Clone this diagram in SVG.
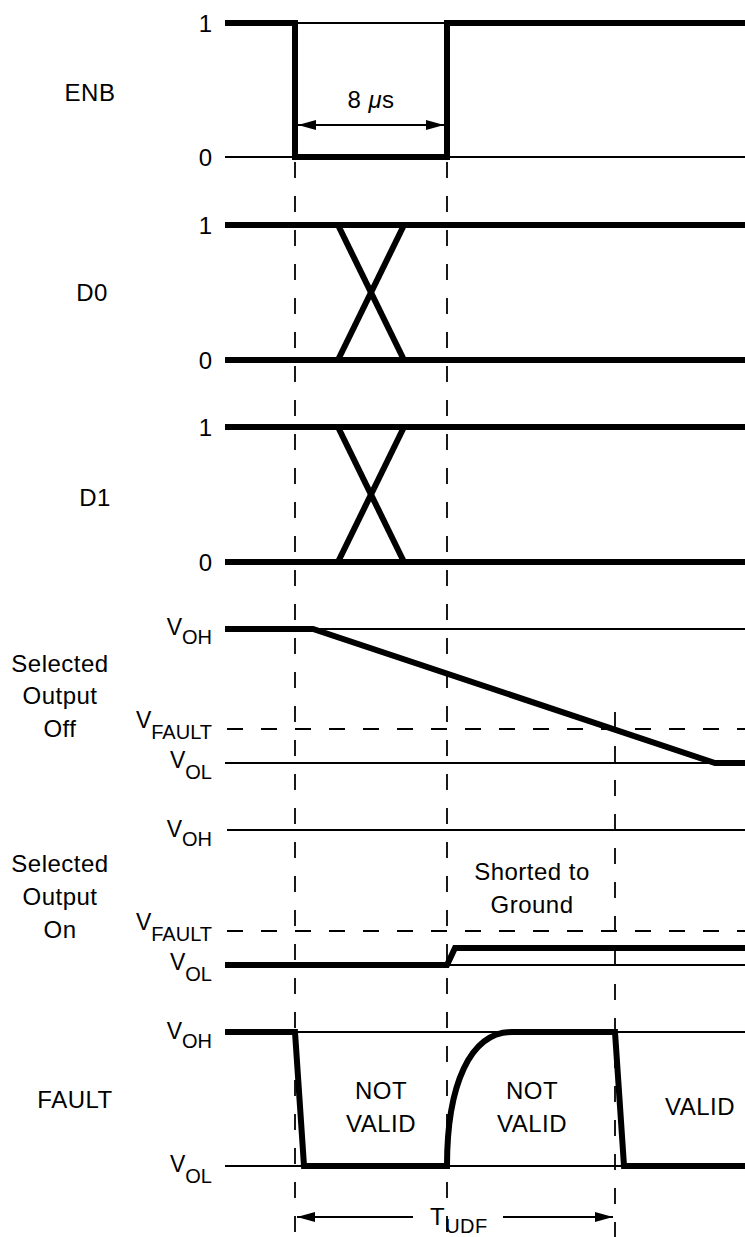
<svg xmlns="http://www.w3.org/2000/svg" width="745" height="1237" viewBox="0 0 745 1237">
<style>
text{font-family:"Liberation Sans",Arial,sans-serif;fill:#000}
.lbl{font-size:24px;letter-spacing:0.5px}
.lv{font-size:23px;text-anchor:end}
.sub{font-size:20px}
.ax{font-size:24px;text-anchor:end}
.c{text-anchor:middle}
.thick{stroke:#000;stroke-width:6;fill:none;stroke-linejoin:miter}
.thin{stroke:#000;stroke-width:1.8;fill:none}
.dash{stroke:#000;stroke-width:1.8;fill:none;stroke-dasharray:16 18}
.arr{stroke:#000;stroke-width:1.8;fill:none}
</style>
<defs>
<marker id="ah" viewBox="0 0 18 10" refX="18" refY="5" markerWidth="18" markerHeight="10" markerUnits="userSpaceOnUse" orient="auto-start-reverse">
<path d="M0,0 L18,5 L0,10 Z" fill="#000"/>
</marker>
</defs>

<g id="guides">
<line class="dash" x1="295" y1="162" x2="295" y2="1237"/>
<line class="dash" x1="447" y1="162" x2="447" y2="1237"/>
<line class="dash" x1="615" y1="712" x2="615" y2="1237"/>
</g>

<g id="enb">
<text class="lbl" x="90" y="101" text-anchor="middle">ENB</text>
<text class="ax" x="212" y="32">1</text>
<text class="ax" x="212" y="166">0</text>
<line class="thin" x1="295" y1="23" x2="447" y2="23"/>
<line class="thin" x1="225" y1="157" x2="745" y2="157"/>
<polyline class="thick" points="225,23 295,23 295,157 447,157 447,23 745,23"/>
<line class="arr" x1="298" y1="125" x2="444" y2="125" marker-start="url(#ah)" marker-end="url(#ah)"/>
<text class="lbl c" x="371" y="108">8 <tspan font-style="italic">μ</tspan>s</text>
</g>

<g id="d0">
<text class="lbl" x="92" y="301" text-anchor="middle">D0</text>
<text class="ax" x="212" y="234">1</text>
<text class="ax" x="212" y="369">0</text>
<line class="thick" x1="225" y1="225" x2="745" y2="225"/>
<line class="thick" x1="225" y1="360" x2="745" y2="360"/>
<line class="thick" x1="338" y1="225" x2="404" y2="360"/>
<line class="thick" x1="404" y1="225" x2="338" y2="360"/>
</g>

<g id="d1">
<text class="lbl" x="95" y="506" text-anchor="middle">D1</text>
<text class="ax" x="212" y="436">1</text>
<text class="ax" x="212" y="571">0</text>
<line class="thick" x1="225" y1="427" x2="745" y2="427"/>
<line class="thick" x1="225" y1="562" x2="745" y2="562"/>
<line class="thick" x1="338" y1="427" x2="404" y2="562"/>
<line class="thick" x1="404" y1="427" x2="338" y2="562"/>
</g>

<g id="out-off">
<text class="lbl c" x="60" y="672">Selected</text>
<text class="lbl c" x="60" y="704">Output</text>
<text class="lbl c" x="60" y="737">Off</text>
<text class="lv" x="212" y="635">V<tspan class="sub" dy="9">OH</tspan></text>
<text class="lv" x="212" y="728">V<tspan class="sub" dy="11">FAULT</tspan></text>
<text class="lv" x="212" y="768">V<tspan class="sub" dy="11">OL</tspan></text>
<line class="thin" x1="313" y1="629" x2="745" y2="629"/>
<line class="dash" x1="227" y1="729" x2="745" y2="729"/>
<line class="thin" x1="225" y1="763" x2="745" y2="763"/>
<polyline class="thick" points="225,629 313,629 715,763 745,763"/>
</g>

<g id="out-on">
<text class="lbl c" x="60" y="872">Selected</text>
<text class="lbl c" x="60" y="905">Output</text>
<text class="lbl c" x="60" y="938">On</text>
<text class="lv" x="212" y="837">V<tspan class="sub" dy="9">OH</tspan></text>
<text class="lv" x="212" y="930">V<tspan class="sub" dy="11">FAULT</tspan></text>
<text class="lv" x="212" y="970">V<tspan class="sub" dy="11">OL</tspan></text>
<line class="thin" x1="227" y1="830" x2="745" y2="830"/>
<line class="dash" x1="227" y1="931" x2="745" y2="931"/>
<line class="thin" x1="447" y1="965" x2="745" y2="965"/>
<polyline class="thick" points="225,965 447,965 455,948 745,948"/>
<text class="lbl c" x="532" y="880">Shorted to</text>
<text class="lbl c" x="532" y="913">Ground</text>
</g>

<g id="fault">
<text class="lbl" x="75" y="1108" text-anchor="middle">FAULT</text>
<text class="lv" x="212" y="1039">V<tspan class="sub" dy="9">OH</tspan></text>
<text class="lv" x="212" y="1172">V<tspan class="sub" dy="11">OL</tspan></text>
<line class="thin" x1="295" y1="1032" x2="745" y2="1032"/>
<line class="thin" x1="225" y1="1166" x2="745" y2="1166"/>
<path class="thick" d="M225,1032 L295,1032 L304,1166 L447,1166 C447,1085 470,1032 512,1032 L615,1032 L624,1166 L745,1166"/>
<text class="lbl c" x="381" y="1099">NOT</text>
<text class="lbl c" x="381" y="1132">VALID</text>
<text class="lbl c" x="532" y="1099">NOT</text>
<text class="lbl c" x="532" y="1132">VALID</text>
<text class="lbl c" x="700" y="1115">VALID</text>
</g>

<g id="connectors">
<line class="arr" x1="297" y1="1217" x2="413" y2="1217" marker-start="url(#ah)"/>
<line class="arr" x1="503" y1="1217" x2="613" y2="1217" marker-end="url(#ah)"/>
<text class="lbl" x="430" y="1225">T<tspan class="sub" dy="8">UDF</tspan></text>
</g>
</svg>
